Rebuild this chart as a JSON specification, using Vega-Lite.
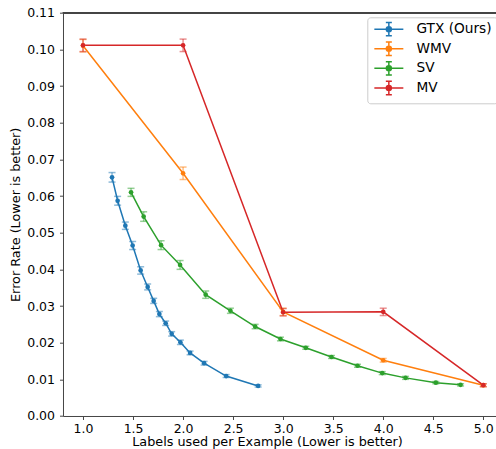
{
  "$schema": "https://vega.github.io/schema/vega-lite/v6.json",
  "autosize": {"type": "none"},
  "padding": {"left": 63, "top": 12.7, "right": 0, "bottom": 33},
  "width": 433.3,
  "height": 403.3,
  "config": {
    "view": {"stroke": null},
    "font": "DejaVu Sans",
    "axis": {"grid": false, "domainColor": "#444", "tickColor": "#444", "tickSize": 3.5, "labelFontSize": 12.5, "labelColor": "#000", "titleFontSize": 12.8, "titleFontWeight": "normal", "titleColor": "#000", "labelFont": "DejaVu Sans", "titleFont": "DejaVu Sans"}
  },
  "data": {"values": [
    {"method": "GTX (Ours)", "x": 1.29, "y": 0.0651, "lo": 0.0638, "hi": 0.0664},
    {"method": "GTX (Ours)", "x": 1.346, "y": 0.0587, "lo": 0.0575, "hi": 0.0599},
    {"method": "GTX (Ours)", "x": 1.423, "y": 0.0519, "lo": 0.0509, "hi": 0.0529},
    {"method": "GTX (Ours)", "x": 1.496, "y": 0.0465, "lo": 0.0454, "hi": 0.0476},
    {"method": "GTX (Ours)", "x": 1.576, "y": 0.0397, "lo": 0.0387, "hi": 0.0407},
    {"method": "GTX (Ours)", "x": 1.646, "y": 0.0352, "lo": 0.0344, "hi": 0.036},
    {"method": "GTX (Ours)", "x": 1.706, "y": 0.0314, "lo": 0.0307, "hi": 0.0321},
    {"method": "GTX (Ours)", "x": 1.763, "y": 0.0278, "lo": 0.0271, "hi": 0.0285},
    {"method": "GTX (Ours)", "x": 1.826, "y": 0.0253, "lo": 0.0247, "hi": 0.0259},
    {"method": "GTX (Ours)", "x": 1.886, "y": 0.0224, "lo": 0.0218, "hi": 0.023},
    {"method": "GTX (Ours)", "x": 1.973, "y": 0.0201, "lo": 0.0195, "hi": 0.0207},
    {"method": "GTX (Ours)", "x": 2.07, "y": 0.0172, "lo": 0.0167, "hi": 0.0177},
    {"method": "GTX (Ours)", "x": 2.21, "y": 0.0144, "lo": 0.0139, "hi": 0.0149},
    {"method": "GTX (Ours)", "x": 2.43, "y": 0.0109, "lo": 0.0105, "hi": 0.0113},
    {"method": "GTX (Ours)", "x": 2.75, "y": 0.0082, "lo": 0.0079, "hi": 0.0085},
    {"method": "WMV", "x": 1.0, "y": 0.101, "lo": 0.0993, "hi": 0.1027},
    {"method": "WMV", "x": 2.0, "y": 0.0662, "lo": 0.0645, "hi": 0.0679},
    {"method": "WMV", "x": 3.0, "y": 0.0284, "lo": 0.0274, "hi": 0.0294},
    {"method": "WMV", "x": 4.0, "y": 0.0152, "lo": 0.0147, "hi": 0.0157},
    {"method": "WMV", "x": 5.0, "y": 0.0084, "lo": 0.008, "hi": 0.0088},
    {"method": "SV", "x": 1.48, "y": 0.061, "lo": 0.0599, "hi": 0.0621},
    {"method": "SV", "x": 1.606, "y": 0.0544, "lo": 0.0531, "hi": 0.0557},
    {"method": "SV", "x": 1.78, "y": 0.0466, "lo": 0.0454, "hi": 0.0478},
    {"method": "SV", "x": 1.97, "y": 0.0412, "lo": 0.04, "hi": 0.0424},
    {"method": "SV", "x": 2.226, "y": 0.0331, "lo": 0.0321, "hi": 0.0341},
    {"method": "SV", "x": 2.473, "y": 0.0287, "lo": 0.028, "hi": 0.0294},
    {"method": "SV", "x": 2.72, "y": 0.0244, "lo": 0.0238, "hi": 0.025},
    {"method": "SV", "x": 2.973, "y": 0.021, "lo": 0.0205, "hi": 0.0215},
    {"method": "SV", "x": 3.226, "y": 0.0186, "lo": 0.0182, "hi": 0.019},
    {"method": "SV", "x": 3.483, "y": 0.0161, "lo": 0.0157, "hi": 0.0165},
    {"method": "SV", "x": 3.743, "y": 0.0137, "lo": 0.0133, "hi": 0.0141},
    {"method": "SV", "x": 3.99, "y": 0.0117, "lo": 0.0113, "hi": 0.0121},
    {"method": "SV", "x": 4.223, "y": 0.0104, "lo": 0.01, "hi": 0.0108},
    {"method": "SV", "x": 4.526, "y": 0.0091, "lo": 0.0088, "hi": 0.0094},
    {"method": "SV", "x": 4.773, "y": 0.0085, "lo": 0.0082, "hi": 0.0088},
    {"method": "MV", "x": 1.0, "y": 0.1011, "lo": 0.0994, "hi": 0.1028},
    {"method": "MV", "x": 2.0, "y": 0.1011, "lo": 0.0994, "hi": 0.1028},
    {"method": "MV", "x": 3.0, "y": 0.0283, "lo": 0.0273, "hi": 0.0293},
    {"method": "MV", "x": 4.0, "y": 0.0284, "lo": 0.0274, "hi": 0.0294},
    {"method": "MV", "x": 5.0, "y": 0.0084, "lo": 0.008, "hi": 0.0088}
  ]},
  "encoding": {
    "x": {"field": "x", "type": "quantitative",
      "scale": {"domain": [0.8, 5.13], "nice": false, "zero": false},
      "axis": {"values": [1, 1.5, 2, 2.5, 3, 3.5, 4, 4.5, 5], "format": ".1f", "title": "Labels used per Example (Lower is better)", "titleX": 204, "titleY": 30, "titleBaseline": "alphabetic", "labelPadding": 3}},
    "y": {"field": "y", "type": "quantitative",
      "scale": {"domain": [0, 0.11], "nice": false},
      "axis": {"values": [0, 0.01, 0.02, 0.03, 0.04, 0.05, 0.06, 0.07, 0.08, 0.09, 0.1, 0.11], "format": ".2f", "title": "Error Rate (Lower is better)", "titleX": -47.5, "titleY": 201.6, "titleAngle": -90, "titleAlign": "center", "titleBaseline": "middle", "labelPadding": 5}},
    "color": {"field": "method", "type": "nominal",
      "scale": {"domain": ["GTX (Ours)", "WMV", "SV", "MV"], "range": ["#1f77b4", "#ff7f0e", "#2ca02c", "#d62728"]},
      "legend": {"orient": "none", "legendX": 304.3, "legendY": 4.6, "title": null,
        "symbolType": "M-2.9,0H2.9M0,-1.34V1.34M-0.6,-1.34H0.6M-0.6,1.34H0.6M0.5,0A0.5,0.5 0 1,1 -0.5,0A0.5,0.5 0 1,1 0.5,0",
        "symbolSize": 100, "symbolStrokeWidth": 1.5, "symbolOffset": 9.7, "labelFontSize": 13.7, "labelFont": "DejaVu Sans", "labelColor": "#000",
        "strokeColor": "#cccccc", "fillColor": "#ffffff", "cornerRadius": 3, "padding": 5, "rowPadding": -0.4, "labelOffset": 20.8,
        "encode": {"symbols": {"update": {"fill": {"scale": "color", "field": "value"}, "stroke": {"scale": "color", "field": "value"}, "opacity": {"value": 1}, "fillOpacity": {"value": 1}, "strokeOpacity": {"value": 1}}}}}}
  },
  "layer": [
    {"mark": {"type": "rule", "strokeWidth": 1.5, "opacity": 0.5}, "encoding": {"y": {"field": "lo", "type": "quantitative"}, "y2": {"field": "hi"}}},
    {"mark": {"type": "tick", "orient": "horizontal", "size": 7, "thickness": 1.5, "opacity": 0.5}, "encoding": {"y": {"field": "lo", "type": "quantitative"}}},
    {"mark": {"type": "tick", "orient": "horizontal", "size": 7, "thickness": 1.5, "opacity": 0.5}, "encoding": {"y": {"field": "hi", "type": "quantitative"}}},
    {"mark": {"type": "line", "strokeWidth": 1.5}, "encoding": {"order": {"field": "x"}}},
    {"mark": {"type": "point", "filled": true, "size": 22, "opacity": 1}},
    {"mark": {"type": "rule", "color": "#444", "strokeWidth": 1}, "encoding": {"y": {"datum": 0.11}, "x": null, "color": null}}
  ]
}
